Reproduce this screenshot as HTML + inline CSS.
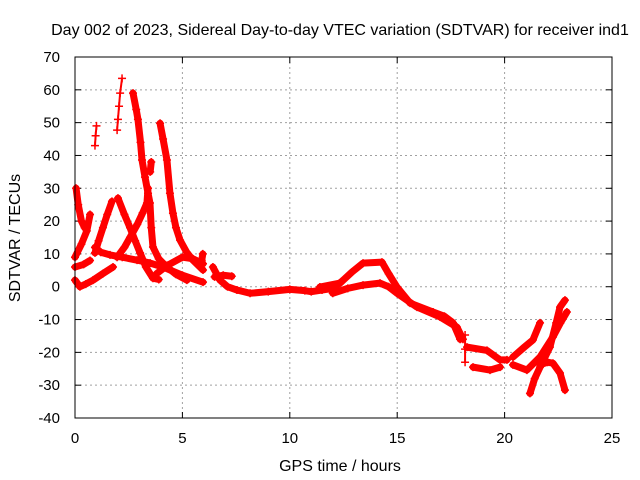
<!DOCTYPE html>
<html><head><meta charset="utf-8"><style>
body{margin:0;background:#fff;}
svg{display:block;font-family:"Liberation Sans",sans-serif;}
</style></head><body>
<svg id="chart" width="640" height="480">
<rect width="640" height="480" fill="#fff"/>
<text x="340" y="35" text-anchor="middle" font-size="16">Day 002 of 2023, Sidereal Day-to-day VTEC variation (SDTVAR) for receiver ind1</text>
<text x="0" y="0" transform="translate(20,238) rotate(-90)" text-anchor="middle" font-size="16">SDTVAR / TECUs</text>
<text x="340" y="471" text-anchor="middle" font-size="16">GPS time / hours</text>
<g id="grid"></g><g id="ticks"></g><g id="marks"></g>
<rect x="75" y="57" width="537" height="361" fill="none" stroke="#000" stroke-width="1"/>
</svg>
<script>
const xTicks=[0,5,10,15,20,25];
const yTicks=[-40,-30,-20,-10,0,10,20,30,40,50,60,70];
const trackA=[[0.05,30],[0.15,25],[0.3,20],[0.45,18],[0.55,19]];
const trackB=[[0,9],[0.3,13],[0.55,17],[0.7,22]];
const trackC=[[0,6],[0.4,6.8],[0.7,8]];
const trackD=[[0,2],[0.23,0],[0.5,0.8],[0.84,2],[1.3,4],[1.77,6]];
const trackE=[[0.93,12],[1.2,10.5],[1.63,9.7],[2.2,9],[2.89,8.1],[3.5,7.2],[4.1,6],[5.0,3.5],[5.96,1.4]];
const trackF=[[0.93,10.3],[1.1,14],[1.3,18],[1.5,22],[1.72,26]];
const trackG=[[2.0,27],[2.3,22],[2.56,18],[2.8,14],[3.03,10.3],[3.3,6],[3.63,2.6],[3.9,2.2]];
const trackG2=[[3.8,4],[4.3,6.5],[5.0,9],[5.5,8.5],[5.96,7]];
const trackH=[[1.96,9],[2.3,12],[2.56,15],[2.9,19],[3.15,22.5],[3.35,25.5],[3.4,30]];
const trackI=[[2.7,59],[2.85,54],[2.93,51],[3.05,44],[3.12,38.6],[3.26,33.4],[3.4,28.5],[3.49,25.5],[3.55,18],[3.63,12.1],[3.9,8.5],[4.28,6],[4.7,3.8],[5.21,2]];
const trackJ=[[3.96,49.8],[4.1,45],[4.28,38.6],[4.42,28.5],[4.56,22.4],[4.7,18],[4.89,14.2],[5.2,10.5],[5.49,8.1],[5.96,5.1]];
const spikeK=[[0.93,43],[0.96,46],[1.0,49]];
const spikeL=[[1.96,47.7],[2.0,51],[2.05,55],[2.1,59],[2.19,63.5]];
const spikeM=[[3.5,35],[3.55,38]];
const spikeN=[[5.9,8],[5.95,10]];
const trackO=[[6.42,6],[6.75,2],[7.1,0],[7.54,-1],[8.15,-2],[9,-1.5],[10,-0.8],[10.7,-1.2],[11,-1.5],[11.5,-1],[12.0,-0.5],[12.4,1.5]];
const trackO2=[[6.5,3],[6.9,3.5],[7.3,3.2]];
const trackP=[[11.4,-0.1],[12.34,1.1],[12.9,4.5],[13.41,7.2],[14.29,7.5],[14.6,4],[14.99,-0.1],[15.6,-5],[16.67,-7.7],[17.2,-9],[17.6,-11],[17.93,-16]];
const trackQ=[[12.0,-2],[12.7,-0.5],[13.41,0.5],[14.2,1.1],[14.6,0],[14.99,-2],[15.92,-6.2],[16.99,-9.2],[17.78,-12.3],[18.06,-16]];
const trackR=[[18.25,-18.4],[19.18,-19.4],[19.79,-22.3],[20.11,-22.3]];
const trackS=[[18.53,-24.5],[19.32,-25.4],[19.79,-24.5]];
const spikeT=[[18.16,-14.7],[18.16,-19],[18.16,-23]];
const trackT=[[20.39,-21.4],[20.9,-18.5],[21.32,-16.2],[21.65,-11]];
const trackU=[[20.39,-23.8],[21.04,-25.4],[21.65,-21.4],[22.25,-15.3],[22.6,-11],[22.9,-7.7]];
const trackV=[[21.18,-32.5],[21.4,-28],[21.65,-24.5],[22.11,-18.4],[22.4,-11],[22.58,-6.2],[22.81,-4.1]];
const trackW=[[21.65,-23.8],[22.0,-23],[22.25,-23.3],[22.58,-26.3],[22.81,-31.5]];
const tracks=[trackA,trackB,trackC,trackD,trackE,trackF,trackG,trackG2,trackH,trackI,trackJ,spikeK,spikeL,spikeM,spikeN,trackO,trackO2,trackP,trackQ,trackR,trackS,spikeT,trackT,trackU,trackV,trackW];
const thin=new Set([spikeK,spikeL,spikeT]);
const NS="http://www.w3.org/2000/svg";
const X0=75,X1=612,Y0=418,Y1=57;
function xs(v){return X0+(v-0)/(25-0)*(X1-X0);}
function ys(v){return Y0-(v+40)/(110)*(Y0-Y1);}
function mk(t,a,p){const e=document.createElementNS(NS,t);for(const k in a)e.setAttribute(k,a[k]);p.appendChild(e);return e;}
const grid=document.getElementById('grid'),ticks=document.getElementById('ticks'),marks=document.getElementById('marks');
xTicks.forEach(t=>{const x=xs(t);
 if(t>0&&t<25){const g=mk('line',{x1:x,x2:x,y1:Y1,y2:Y0,stroke:'#a0a0a0','stroke-dasharray':'2,3'},grid);
 
 }
 mk('line',{x1:x,x2:x,y1:Y0,y2:Y0-6,stroke:'#000'},ticks);
 mk('line',{x1:x,x2:x,y1:Y1,y2:Y1+6,stroke:'#000'},ticks);
 const l=mk('text',{x:x,y:443,'text-anchor':'middle','font-size':15},ticks);l.textContent=t;
 
 });
yTicks.forEach(t=>{const y=ys(t);
 if(t>-40&&t<70){const g=mk('line',{x1:X0,x2:X1,y1:y,y2:y,stroke:'#a0a0a0','stroke-dasharray':'2,3'},grid);
 
 }
 mk('line',{x1:X0,x2:X0+6,y1:y,y2:y,stroke:'#000'},ticks);
 mk('line',{x1:X1,x2:X1-6,y1:y,y2:y,stroke:'#000'},ticks);
 const l=mk('text',{x:60,y:y+5,'text-anchor':'end','font-size':15},ticks);l.textContent=t;
 
 });
tracks.forEach(tr=>{
 const w=thin.has(tr)?2:7;
 const pl=mk('polyline',{points:tr.map(p=>xs(p[0])+','+ys(p[1])).join(' '),fill:'none',stroke:'#ff0000','stroke-width':w,'stroke-linejoin':'round','stroke-linecap':'round'},marks);
 
 
 tr.forEach(p=>{const x=xs(p[0]),y=ys(p[1]);
  const m=mk('path',{d:`M${x-4},${y}H${x+4}M${x},${y-4}V${y+4}`,stroke:'#ff0000','stroke-width':1.5},marks);
  
  });
});
</script>
</body></html>
